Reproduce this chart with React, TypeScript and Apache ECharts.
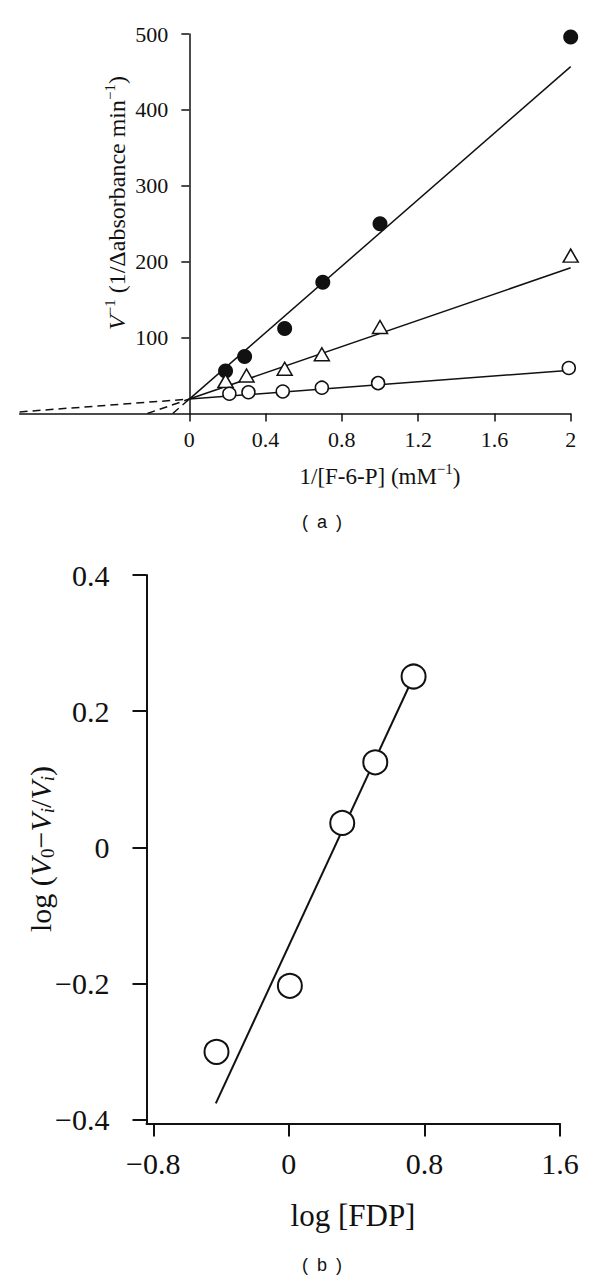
import React, { useEffect, useRef } from "react";
import * as echarts from "echarts";

// ---------- Panel (a): Lineweaver-Burk ----------
const aXTicks = [0, 0.4, 0.8, 1.2, 1.6, 2];
const aYTicks = [100, 200, 300, 400, 500];

const filledX = [0.19, 0.29, 0.5, 0.7, 1.0, 2.0];
const filledY = [56, 75, 112, 173, 250, 496];
const triX = [0.19, 0.3, 0.5, 0.695, 1.0, 2.0];
const triY = [43, 50, 59, 78, 114, 208];
const openX = [0.21, 0.31, 0.49, 0.695, 0.99, 1.99];
const openY = [26, 28, 29, 34, 40, 60];

// fitted lines: [x-intercept, 0, 2] -> [0, y-intercept, value at 2]
const filledFitX = [-0.087, 0, 2];
const filledFitY = [0, 19, 457];
const triFitX = [-0.22, 0, 2];
const triFitY = [0, 19, 192];
const openFitX = [-0.89, 0, 2];
const openFitY = [2.1, 19, 57];

// ---------- Panel (b): Hill plot ----------
const bXTicks = [-0.8, 0, 0.8, 1.6];
const bYTicks = [-0.4, -0.2, 0, 0.2, 0.4];
const hillX = [-0.427, 0.006, 0.315, 0.51, 0.736];
const hillY = [-0.3, -0.203, 0.036, 0.125, 0.251];
const hillFitX = [-0.431, 0.736];
const hillFitY = [-0.3755, 0.251];

const pairs = (xs: number[], ys: number[]) => xs.map((x, i) => [x, ys[i]]);

const SERIF = "'Liberation Serif', 'Times New Roman', serif";
const SANS = "'Liberation Sans', Arial, sans-serif";
const INK = "#111";

const fmt = (v: number) => String(v).replace("-", "\u2212");

// panel (a) geometry (grid) – y axis sits at x = 0
const A_LEFT = 19.6;
const A_WIDTH = 551.1;
const A_XMIN = -0.89;
const A_XMAX = 2;

export default function App() {
  const ref = useRef<HTMLDivElement>(null);
  useEffect(() => {
    if (!ref.current) return;
    const chart = echarts.init(ref.current, undefined, { renderer: "svg" });

    const yAxisShift = (-A_XMIN / (A_XMAX - A_XMIN)) * A_WIDTH;

    const solid = (xi: number, yi: number, xs: number[], ys: number[], lw: number) => ({
      type: "line",
      xAxisIndex: xi,
      yAxisIndex: yi,
      data: pairs(xs, ys),
      symbol: "none",
      lineStyle: { color: INK, width: lw },
      z: 1,
      silent: true,
    });
    const dashed = (xs: number[], ys: number[]) => ({
      type: "line",
      xAxisIndex: 0,
      yAxisIndex: 0,
      data: pairs(xs.slice(0, 2), ys.slice(0, 2)),
      symbol: "none",
      lineStyle: { color: INK, width: 1.5, type: [8, 5] },
      z: 1,
      silent: true,
    });

    const centered = { align: "center", verticalAlign: "middle", textAlign: "center", textVerticalAlign: "middle" };

    const option: any = {
      animation: false,
      backgroundColor: "#fff",
      grid: [
        { left: A_LEFT, top: 34, width: A_WIDTH, height: 379.5, outerBoundsMode: "none" },
        { left: 146.5, top: 575, width: 413.5, height: 548.4, outerBoundsMode: "none" },
      ],
      xAxis: [
        {
          gridIndex: 0,
          type: "value",
          min: A_XMIN,
          max: A_XMAX,
          splitLine: { show: false },
          axisLine: { show: true, onZero: false, lineStyle: { color: INK, width: 1.5 } },
          axisTick: { show: true, length: 8, customValues: aXTicks, lineStyle: { color: INK, width: 1.5 } },
          axisLabel: { color: INK, fontFamily: SERIF, fontSize: 22, margin: 15, formatter: fmt, customValues: aXTicks },
        },
        {
          gridIndex: 1,
          type: "value",
          min: -0.84,
          max: 1.6,
          splitLine: { show: false },
          axisLine: { show: true, onZero: false, lineStyle: { color: INK, width: 2 } },
          axisTick: { show: true, length: 13, customValues: bXTicks, lineStyle: { color: INK, width: 2 } },
          axisLabel: { color: INK, fontFamily: SERIF, fontSize: 30, margin: 25, formatter: fmt, customValues: bXTicks },
        },
      ],
      yAxis: [
        {
          gridIndex: 0,
          type: "value",
          min: 0,
          max: 500,
          offset: -yAxisShift,
          splitLine: { show: false },
          axisLine: { show: true, onZero: false, lineStyle: { color: INK, width: 1.5 } },
          axisTick: { show: true, length: 8, customValues: aYTicks, lineStyle: { color: INK, width: 1.5 } },
          axisLabel: { color: INK, fontFamily: SERIF, fontSize: 22, margin: 21, formatter: fmt, customValues: aYTicks },
        },
        {
          gridIndex: 1,
          type: "value",
          min: -0.405,
          max: 0.4,
          splitLine: { show: false },
          axisLine: { show: true, onZero: false, lineStyle: { color: INK, width: 2 } },
          axisTick: { show: true, length: 14, customValues: bYTicks, lineStyle: { color: INK, width: 2 } },
          axisLabel: { color: INK, fontFamily: SERIF, fontSize: 30, margin: 37, formatter: fmt, customValues: bYTicks },
        },
      ],
      series: [
        solid(0, 0, filledFitX.slice(1), filledFitY.slice(1), 1.5),
        solid(0, 0, triFitX.slice(1), triFitY.slice(1), 1.5),
        solid(0, 0, openFitX.slice(1), openFitY.slice(1), 1.5),
        dashed(filledFitX, filledFitY),
        dashed(triFitX, triFitY),
        dashed(openFitX, openFitY),
        {
          type: "scatter",
          xAxisIndex: 0,
          yAxisIndex: 0,
          data: pairs(filledX, filledY),
          symbol: "circle",
          symbolSize: 15,
          itemStyle: { color: INK, borderWidth: 0, opacity: 1 },
          z: 3,
        },
        {
          type: "scatter",
          xAxisIndex: 0,
          yAxisIndex: 0,
          data: pairs(triX, triY),
          symbol: "triangle",
          symbolSize: [15, 13],
          itemStyle: { color: "#fff", borderColor: INK, borderWidth: 1.5, opacity: 1 },
          z: 3,
        },
        {
          type: "scatter",
          xAxisIndex: 0,
          yAxisIndex: 0,
          data: pairs(openX, openY),
          symbol: "circle",
          symbolSize: 13,
          itemStyle: { color: "#fff", borderColor: INK, borderWidth: 1.5, opacity: 1 },
          z: 3,
        },
        solid(1, 1, hillFitX, hillFitY, 2),
        {
          type: "scatter",
          xAxisIndex: 1,
          yAxisIndex: 1,
          data: pairs(hillX, hillY),
          symbol: "circle",
          symbolSize: 24,
          itemStyle: { color: "#fff", borderColor: INK, borderWidth: 2, opacity: 1 },
          z: 3,
        },
      ],
      graphic: [
        {
          type: "text",
          x: 117,
          y: 203,
          rotation: Math.PI / 2,
          style: {
            text: "{it|V}{sup|\u22121} (1/\u0394absorbance min{sup|\u22121})",
            fill: INK,
            fontFamily: SERIF,
            fontSize: 24,
            ...centered,
            rich: {
              it: { fontStyle: "italic", fontFamily: SERIF, fontSize: 24, fill: INK },
              sup: { fontFamily: SERIF, fontSize: 15, padding: [0, 0, 14, 0], fill: INK },
            },
          },
        },
        {
          type: "text",
          x: 380,
          y: 476,
          style: {
            text: "1/[F-6-P] (mM{sup|\u22121})",
            fill: INK,
            fontFamily: SERIF,
            fontSize: 23,
            ...centered,
            rich: {
              sup: { fontFamily: SERIF, fontSize: 15, padding: [0, 0, 14, 0], fill: INK },
            },
          },
        },
        {
          type: "text",
          x: 322,
          y: 522,
          style: { text: "(\u2002a\u2002)", fill: INK, fontFamily: SANS, fontSize: 18, ...centered },
        },
        {
          type: "text",
          x: 40,
          y: 849,
          rotation: Math.PI / 2,
          style: {
            text: "log ({it|V}{sub|0}\u2212{it|V}{isub|i}/{it|V}{isub|i})",
            fill: INK,
            fontFamily: SERIF,
            fontSize: 30,
            ...centered,
            rich: {
              it: { fontStyle: "italic", fontFamily: SERIF, fontSize: 30, fill: INK },
              sub: { fontFamily: SERIF, fontSize: 19, padding: [14, 0, 0, 0], fill: INK },
              isub: { fontStyle: "italic", fontFamily: SERIF, fontSize: 19, padding: [14, 0, 0, 0], fill: INK },
            },
          },
        },
        {
          type: "text",
          x: 353,
          y: 1215,
          style: { text: "log [FDP]", fill: INK, fontFamily: SERIF, fontSize: 31, ...centered },
        },
        {
          type: "text",
          x: 322,
          y: 1265,
          style: { text: "(\u2002b\u2002)", fill: INK, fontFamily: SANS, fontSize: 18, ...centered },
        },
      ],
    };

    chart.setOption(option);
    return () => chart.dispose();
  }, []);

  return (
    <div
      ref={ref}
      style={{ position: "absolute", left: 0, top: 0, width: 600, height: 1281, background: "#fff" }}
    />
  );
}
